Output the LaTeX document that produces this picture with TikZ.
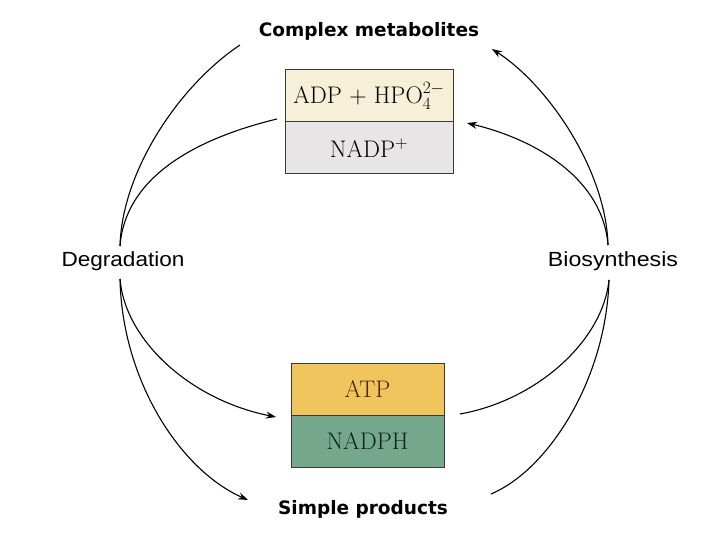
\documentclass[tikz,border=0pt]{standalone}
\usepackage{fontspec}
\usetikzlibrary{arrows.meta}
\newfontfamily\labfont{Liberation Sans}
\newfontfamily\boldlab{DejaVu Sans}[BoldFont={DejaVu Sans Bold}]
\definecolor{cream}{HTML}{F6F0D9}
\definecolor{lgrey}{HTML}{E7E5E5}
\definecolor{atpc}{HTML}{F1C55E}
\definecolor{nadphc}{HTML}{74A78C}
\definecolor{boxline}{HTML}{3A3A3A}
\definecolor{atptext}{HTML}{4A2312}
\definecolor{nadphtext}{HTML}{10251A}
\begin{document}
\begin{tikzpicture}[x=1pt,y=-1pt,
  half/.style={draw=boxline,line width=1pt,inner sep=0pt,minimum height=52pt,font=\fontsize{24}{26}\selectfont},
  biglab/.style={font=\boldlab\bfseries\fontsize{18.5}{20}\selectfont,inner sep=0pt},
  sidelab/.style={font=\labfont\fontsize{20.5}{22}\selectfont,inner sep=0pt},
  conn/.style={line width=1.1pt},
  arr/.style={conn,-{Stealth[length=10pt,width=7pt]}}]
\useasboundingbox (0,0) rectangle (720,540);
\fill[white] (0,0) rectangle (720,540);
% boxes
\node[half,fill=cream,minimum width=168pt] (adp) at (369,96) {ADP + HPO$_4^{2-}$};
\node[half,fill=lgrey,minimum width=168pt] (nadp) at (369,148) {NADP$^+$};
\node[half,fill=atpc,minimum width=153pt,text=atptext] (atp) at (367.5,389) {ATP};
\node[half,fill=nadphc,minimum width=153pt,text=nadphtext] (nadph) at (367.5,441) {NADPH};
% labels
\node[biglab] (complex) at (369,31) {Complex metabolites};
\node[biglab] (simple) at (363,509) {Simple products};
\node[sidelab] (degr) at (123,261) {\scalebox{1.1}[1]{Degradation}};
\node[sidelab] (bios) at (613,261) {\scalebox{1.13}[1]{Biosynthesis}};
% connector endpoints
\coordinate (dT) at (120,246);
\coordinate (dB) at (120,279);
\coordinate (bT) at (608,245);
\coordinate (bB) at (609,280);
\coordinate (cL) at (240,45);
\coordinate (cR) at (492,49);
\coordinate (aL) at (277,119);
\coordinate (aR) at (467,123);
\coordinate (tL) at (276,417);
\coordinate (tR) at (460,414);
\coordinate (sL) at (248,500);
\coordinate (sR) at (491,494);
% left
\draw[conn] (cL) .. controls (180,85) and (122,170) .. (dT);
\draw[conn] (aL) .. controls (190,140) and (125,180) .. (dT);
\draw[arr] (dB) .. controls (125,340) and (190,400) .. (tL);
\draw[arr] (dB) .. controls (122,380) and (180,470) .. (sL);
% right
\draw[arr] (bT) .. controls (606,170) and (548,85) .. (cR);
\draw[arr] (bT) .. controls (603,180) and (538,140) .. (aR);
\draw[conn] (tR) .. controls (538,400) and (603,340) .. (bB);
\draw[conn] (sR) .. controls (548,470) and (606,380) .. (bB);
\end{tikzpicture}
\end{document}
